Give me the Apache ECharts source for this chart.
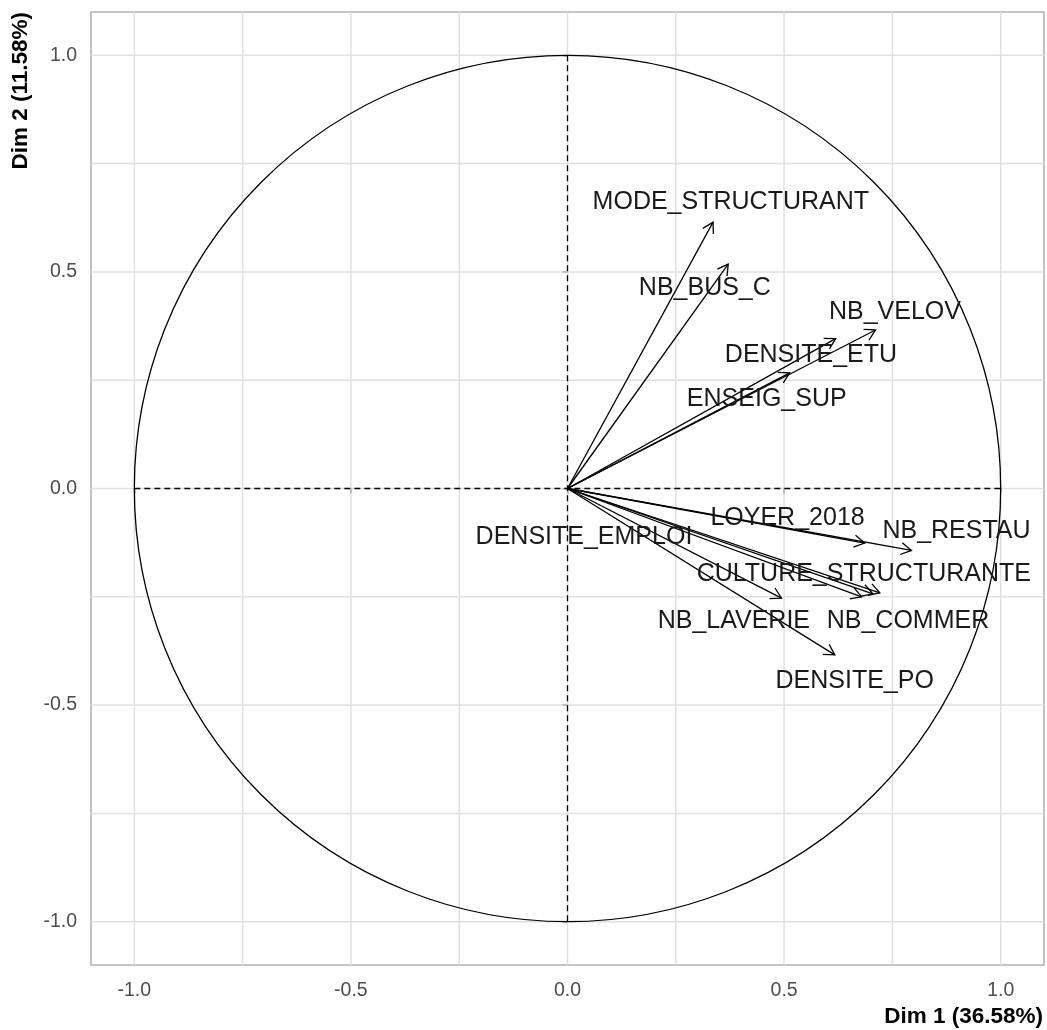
<!DOCTYPE html>
<html>
<head>
<meta charset="utf-8">
<script src="https://cdn.jsdelivr.net/npm/echarts@6/dist/echarts.min.js"></script>
<style>
  html, body { margin: 0; padding: 0; background: #ffffff; }
  #chart { width: 1047px; height: 1030px; }
</style>
</head>
<body>
<div id="chart"></div>
<script>
// ---- data ----
const varNames = ['MODE_STRUCTURANT', 'NB_BUS_C', 'NB_VELOV', 'DENSITE_ETU', 'ENSEIG_SUP',
  'LOYER_2018', 'NB_RESTAU', 'DENSITE_EMPLOI', 'CULTURE_STRUCTURANTE', 'NB_COMMER',
  'NB_LAVERIE', 'DENSITE_PO'];
const dim1 = [0.336, 0.371, 0.711, 0.619, 0.513, 0.686, 0.794, 0.705, 0.721, 0.679, 0.494, 0.617];
const dim2 = [0.615, 0.518, 0.366, 0.346, 0.267, -0.126, -0.143, -0.243, -0.241, -0.250, -0.253, -0.384];
// label anchor positions (repelled), in data units
const labelX = [0.377, 0.317, 0.756, 0.562, 0.460, 0.508, 0.898, 0.038, 0.684, 0.786, 0.384, 0.663];
const labelY = [0.661, 0.462, 0.407, 0.308, 0.206, -0.068, -0.098, -0.112, -0.197, -0.306, -0.306, -0.444];
const tickValues = [-1, -0.5, 0, 0.5, 1];
const tickLabels = ['-1.0', '-0.5', '0.0', '0.5', '1.0'];
const gridValues = [-1, -0.75, -0.5, -0.25, 0, 0.25, 0.5, 0.75, 1];
const xTitle = 'Dim 1 (36.58%)';
const yTitle = 'Dim 2 (11.58%)';

// ---- chart ----
const FONT = '"Liberation Sans", Arial, sans-serif';
const chart = echarts.init(document.getElementById('chart'), null, { renderer: 'canvas' });

const tickFmt = v => {
  const i = tickValues.findIndex(t => Math.abs(t - v) < 1e-9);
  return i >= 0 ? tickLabels[i] : '';
};

const option = {
  animation: false,
  backgroundColor: '#ffffff',
  grid: {
    left: 91, right: 3, top: 12, bottom: 65,
    show: true, borderColor: '#b3b3b3', borderWidth: 1.6, backgroundColor: 'transparent'
  },
  xAxis: {
    type: 'value', min: -1.1, max: 1.1,
    splitLine: { show: false },
    axisLine: { show: false },
    axisTick: { show: true, customValues: tickValues, length: 5, lineStyle: { color: '#b3b3b3', width: 1.5 } },
    axisLabel: { customValues: tickValues, formatter: tickFmt, color: '#4d4d4d', fontSize: 19.5, fontFamily: FONT, margin: 16 }
  },
  yAxis: {
    type: 'value', min: -1.1, max: 1.1,
    splitLine: { show: false },
    axisLine: { show: false },
    axisTick: { show: true, customValues: tickValues, length: 5, lineStyle: { color: '#b3b3b3', width: 1.5 } },
    axisLabel: { customValues: tickValues, formatter: tickFmt, color: '#4d4d4d', fontSize: 19.5, fontFamily: FONT, margin: 14 }
  },
  graphic: [
    { type: 'text', right: 4, top: 1005, style: { text: xTitle, font: 'bold 22.5px ' + FONT, fill: '#000' } },
    { type: 'text', x: 21, y: 12, rotation: Math.PI / 2,
      style: { text: yTitle, font: 'bold 22.5px ' + FONT, fill: '#000', align: 'right', verticalAlign: 'middle' } }
  ],
  series: [
    { // background grid
      type: 'custom', z: 0, silent: true, clip: true,
      data: [[0, 0]],
      renderItem: function (params, api) {
        const children = [];
        gridValues.forEach(v => {
          const a = api.coord([v, -1.1]), b = api.coord([v, 1.1]);
          children.push({ type: 'line', shape: { x1: a[0], y1: a[1], x2: b[0], y2: b[1] },
            style: { stroke: '#e0e0e0', lineWidth: 1.5 } });
          const c = api.coord([-1.1, v]), d = api.coord([1.1, v]);
          children.push({ type: 'line', shape: { x1: c[0], y1: c[1], x2: d[0], y2: d[1] },
            style: { stroke: '#e0e0e0', lineWidth: 1.5 } });
        });
        return { type: 'group', children };
      }
    },
    { // unit circle + dashed axes
      type: 'custom', z: 2, silent: true,
      data: [[0, 0]],
      renderItem: function (params, api) {
        const c = api.coord([0, 0]);
        const r = api.size([1, 1]);
        const l = api.coord([-1, 0]), rr = api.coord([1, 0]);
        const t = api.coord([0, 1]), b = api.coord([0, -1]);
        return { type: 'group', children: [
          { type: 'circle', shape: { cx: c[0], cy: c[1], r: (r[0] + r[1]) / 2 },
            style: { fill: 'none', stroke: '#000', lineWidth: 1.3 } },
          { type: 'line', shape: { x1: l[0], y1: l[1], x2: rr[0], y2: rr[1] },
            style: { stroke: '#000', lineWidth: 1.3, lineDash: [6, 4] } },
          { type: 'line', shape: { x1: t[0], y1: t[1], x2: b[0], y2: b[1] },
            style: { stroke: '#000', lineWidth: 1.3, lineDash: [6, 4] } }
        ] };
      }
    },
    { // arrows
      type: 'custom', z: 3, silent: true,
      data: dim1.map((x, i) => [x, dim2[i]]),
      renderItem: function (params, api) {
        const p0 = api.coord([0, 0]);
        const p1 = api.coord([api.value(0), api.value(1)]);
        const ang = Math.atan2(p1[1] - p0[1], p1[0] - p0[0]);
        const L = 12, A = Math.PI / 6;
        const a1 = [p1[0] - L * Math.cos(ang - A), p1[1] - L * Math.sin(ang - A)];
        const a2 = [p1[0] - L * Math.cos(ang + A), p1[1] - L * Math.sin(ang + A)];
        return { type: 'group', children: [
          { type: 'line', shape: { x1: p0[0], y1: p0[1], x2: p1[0], y2: p1[1] },
            style: { stroke: '#000', lineWidth: 1.3 } },
          { type: 'polyline', shape: { points: [a1, p1, a2] },
            style: { stroke: '#000', lineWidth: 1.3, fill: 'none' } }
        ] };
      }
    },
    { // labels
      type: 'custom', z: 4, silent: true,
      data: labelX.map((x, i) => [x, labelY[i]]),
      renderItem: function (params, api) {
        const p = api.coord([api.value(0), api.value(1)]);
        return { type: 'text', style: {
          text: varNames[params.dataIndex], x: p[0], y: p[1],
          font: '25px ' + FONT, fill: '#1a1a1a', align: 'center', verticalAlign: 'middle' } };
      }
    }
  ]
};
chart.setOption(option);
</script>
</body>
</html>
